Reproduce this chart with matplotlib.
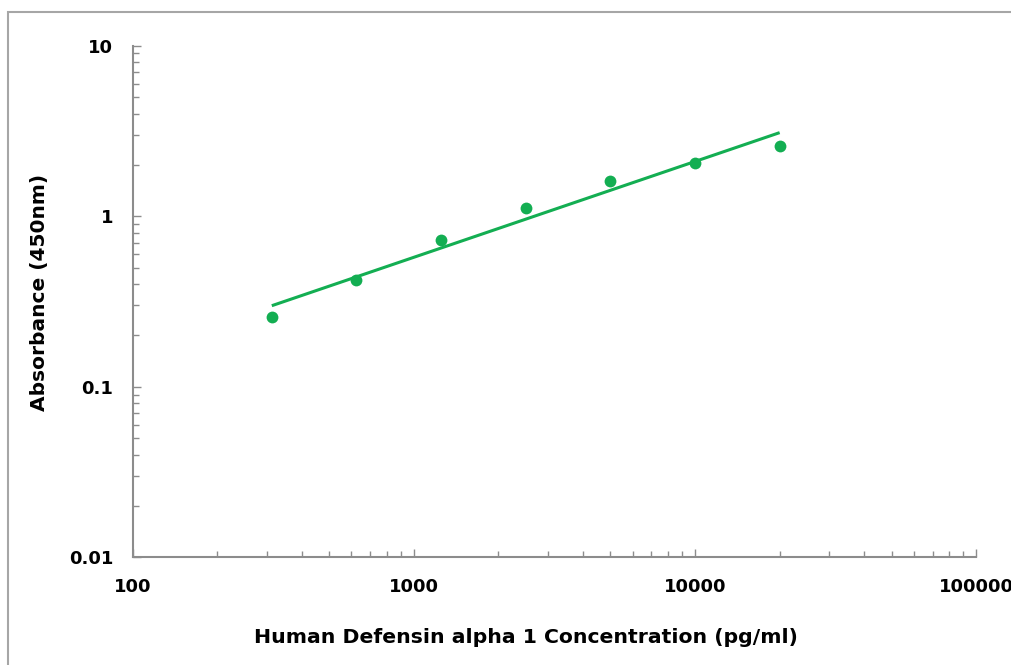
import numpy as np
import matplotlib
matplotlib.use("Agg")
import matplotlib.pyplot as plt
from matplotlib.ticker import LogLocator, FixedLocator, NullFormatter
from matplotlib.patches import Rectangle

# standard curve readings
concentration = [312.5, 625, 1250, 2500, 5000, 10000, 20000]
absorbance = [0.256, 0.423, 0.726, 1.12, 1.61, 2.06, 2.59]

x_ticks = [100, 1000, 10000, 100000]
x_tick_labels = ["100", "1000", "10000", "100000"]
y_ticks = [0.01, 0.1, 1, 10]
y_tick_labels = ["0.01", "0.1", "1", "10"]

green = "#13AE52"
axis_grey = "#8C8C8C"

plt.rcParams['font.family'] = ['DejaVu Sans']
plt.rcParams['font.weight'] = 'bold'

fig = plt.figure(figsize=(10.12, 6.65), dpi=100)
ax = fig.add_axes([0.1311, 0.162, 0.8335, 0.7693])

# power fit (linear in log-log space)
k, b = np.polyfit(np.log10(concentration), np.log10(absorbance), 1)
fit_x = np.array([concentration[0], concentration[-1]])
fit_y = 10 ** (k * np.log10(fit_x) + b)
ax.plot(fit_x, fit_y, color=green, lw=2.2, solid_capstyle='butt')
ax.plot(concentration, absorbance, 'o', color=green, ms=8.5, mec='none')

ax.set_xscale('log')
ax.set_yscale('log')
ax.set_xlim(100, 100000)
ax.set_ylim(0.01, 10)

ax.xaxis.set_major_locator(FixedLocator(x_ticks))
ax.set_xticklabels(x_tick_labels)
ax.yaxis.set_major_locator(FixedLocator(y_ticks))
ax.set_yticklabels(y_tick_labels)
for axis in (ax.xaxis, ax.yaxis):
    axis.set_minor_locator(LogLocator(base=10, subs=np.arange(2, 10)))
    axis.set_minor_formatter(NullFormatter())

ax.tick_params(which='major', direction='in', length=6, width=1, color=axis_grey,
               labelsize=13)
ax.tick_params(which='minor', direction='in', length=4, width=1, color=axis_grey)
ax.tick_params(axis='x', which='major', pad=15)
ax.tick_params(axis='y', which='major', pad=14)

for s in ['top', 'right']:
    ax.spines[s].set_visible(False)
for s in ['left', 'bottom']:
    ax.spines[s].set_color(axis_grey)
    ax.spines[s].set_linewidth(1.5)

ax.set_xlabel("Human Defensin alpha 1 Concentration (pg/ml)", fontsize=14.7,
              fontweight='bold', va='center')
ax.xaxis.set_label_coords(0.466, -0.156)
ax.set_ylabel("Absorbance (450nm)", fontsize=14.5, fontweight='bold', va='center')
ax.yaxis.set_label_coords(-0.110, 0.518)

# chart-area border
fig.patches.append(Rectangle((8 / 1012, -0.05), 1.2, 1 - 12 / 665 + 0.05,
                             transform=fig.transFigure, fill=False,
                             edgecolor='#A6A6A6', lw=1.5))

fig.savefig("out.png", dpi=100)
